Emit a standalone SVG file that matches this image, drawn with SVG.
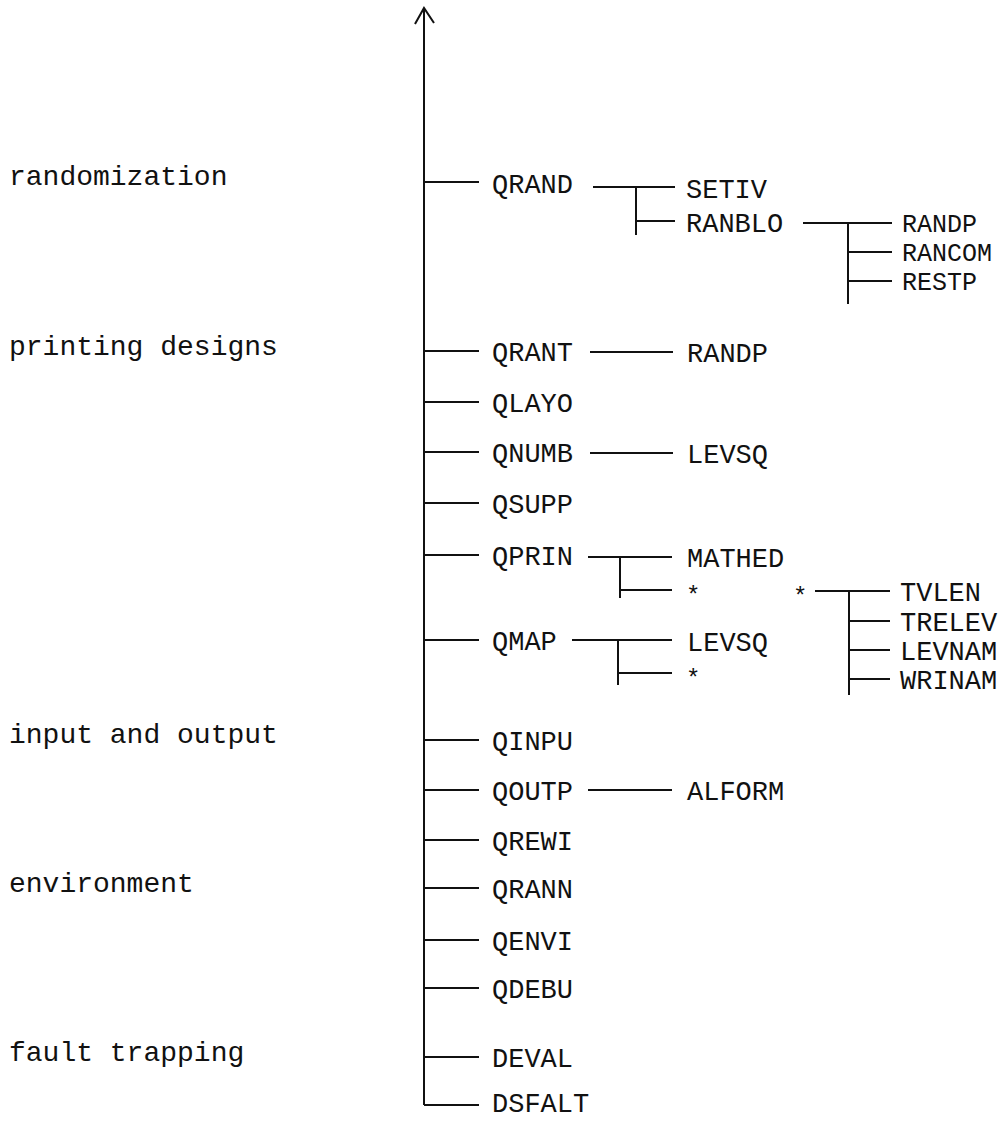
<svg xmlns="http://www.w3.org/2000/svg" width="1005" height="1121" viewBox="0 0 1005 1121">
<style>
  .t { font-family: "Liberation Mono", "DejaVu Sans Mono", monospace; font-size: 27px; fill: #111; }
  .u { font-family: "Liberation Mono", "DejaVu Sans Mono", monospace; font-size: 25px; fill: #111; }
  .l { font-family: "Liberation Mono", "DejaVu Sans Mono", monospace; font-size: 28px; fill: #111; }
  .s { font-family: "Liberation Mono", "DejaVu Sans Mono", monospace; font-size: 24px; fill: #111; }
  .c line, .c polyline { stroke: #111; stroke-width: 2; fill: none; stroke-linecap: butt; }
</style>
<rect width="1005" height="1121" fill="#fff"/>

<g id="categories">
  <text class="l" x="9" y="185">randomization</text>
  <text class="l" x="9" y="355">printing designs</text>
  <text class="l" x="9" y="743">input and output</text>
  <text class="l" x="9" y="892">environment</text>
  <text class="l" x="9" y="1061">fault trapping</text>
</g>

<g id="connectors" class="c">
  <line x1="424" y1="9" x2="424" y2="1105"/>
  <polyline points="415,24 424,8 434,23"/>
  <line x1="424" y1="182" x2="479" y2="182"/>
  <line x1="424" y1="351" x2="479" y2="351"/>
  <line x1="424" y1="402" x2="479" y2="402"/>
  <line x1="424" y1="452" x2="479" y2="452"/>
  <line x1="424" y1="503" x2="479" y2="503"/>
  <line x1="424" y1="555" x2="479" y2="555"/>
  <line x1="424" y1="640" x2="479" y2="640"/>
  <line x1="424" y1="740" x2="479" y2="740"/>
  <line x1="424" y1="790" x2="479" y2="790"/>
  <line x1="424" y1="840" x2="479" y2="840"/>
  <line x1="424" y1="888" x2="479" y2="888"/>
  <line x1="424" y1="940" x2="479" y2="940"/>
  <line x1="424" y1="988" x2="479" y2="988"/>
  <line x1="424" y1="1057" x2="479" y2="1057"/>
  <line x1="424" y1="1105" x2="479" y2="1105"/>
  <line x1="593" y1="187" x2="675" y2="187"/>
  <line x1="636" y1="187" x2="636" y2="235"/>
  <line x1="636" y1="221" x2="675" y2="221"/>
  <line x1="803" y1="223" x2="892" y2="223"/>
  <line x1="848" y1="223" x2="848" y2="304"/>
  <line x1="848" y1="252" x2="892" y2="252"/>
  <line x1="848" y1="281" x2="892" y2="281"/>
  <line x1="590" y1="352" x2="673" y2="352"/>
  <line x1="590" y1="453" x2="673" y2="453"/>
  <line x1="588" y1="557" x2="672" y2="557"/>
  <line x1="620" y1="557" x2="620" y2="598"/>
  <line x1="620" y1="590" x2="672" y2="590"/>
  <line x1="815" y1="591" x2="890" y2="591"/>
  <line x1="849" y1="591" x2="849" y2="695"/>
  <line x1="849" y1="621" x2="890" y2="621"/>
  <line x1="849" y1="650" x2="890" y2="650"/>
  <line x1="849" y1="679" x2="890" y2="679"/>
  <line x1="572" y1="640" x2="672" y2="640"/>
  <line x1="618" y1="640" x2="618" y2="685"/>
  <line x1="618" y1="673" x2="672" y2="673"/>
  <line x1="588" y1="790" x2="672" y2="790"/>
</g>

<g id="n-QRAND"><text class="t" x="492" y="193">QRAND</text></g>
<g id="n-SETIV"><text class="t" x="686" y="198">SETIV</text></g>
<g id="n-RANBLO"><text class="t" x="686" y="232">RANBLO</text></g>
<g id="n-RANDP1"><text class="u" x="902" y="232">RANDP</text></g>
<g id="n-RANCOM"><text class="u" x="902" y="261">RANCOM</text></g>
<g id="n-RESTP"><text class="u" x="902" y="290">RESTP</text></g>
<g id="n-QRANT"><text class="t" x="492" y="361">QRANT</text></g>
<g id="n-RANDP2"><text class="t" x="687" y="362">RANDP</text></g>
<g id="n-QLAYO"><text class="t" x="492" y="412">QLAYO</text></g>
<g id="n-QNUMB"><text class="t" x="492" y="462">QNUMB</text></g>
<g id="n-LEVSQ1"><text class="t" x="687" y="463">LEVSQ</text></g>
<g id="n-QSUPP"><text class="t" x="492" y="513">QSUPP</text></g>
<g id="n-QPRIN"><text class="t" x="492" y="565">QPRIN</text></g>
<g id="n-MATHED"><text class="t" x="687" y="567">MATHED</text></g>
<g id="n-star1"><text class="s" x="686" y="603">*</text></g>
<g id="n-star2"><text class="s" x="793" y="604">*</text></g>
<g id="n-TVLEN"><text class="t" x="900" y="601">TVLEN</text></g>
<g id="n-TRELEV"><text class="t" x="900" y="631">TRELEV</text></g>
<g id="n-LEVNAM"><text class="t" x="900" y="660">LEVNAM</text></g>
<g id="n-WRINAM"><text class="t" x="900" y="689">WRINAM</text></g>
<g id="n-QMAP"><text class="t" x="492" y="650">QMAP</text></g>
<g id="n-LEVSQ2"><text class="t" x="687" y="651">LEVSQ</text></g>
<g id="n-star3"><text class="s" x="686" y="686">*</text></g>
<g id="n-QINPU"><text class="t" x="492" y="750">QINPU</text></g>
<g id="n-QOUTP"><text class="t" x="492" y="800">QOUTP</text></g>
<g id="n-ALFORM"><text class="t" x="687" y="800">ALFORM</text></g>
<g id="n-QREWI"><text class="t" x="492" y="850">QREWI</text></g>
<g id="n-QRANN"><text class="t" x="492" y="898">QRANN</text></g>
<g id="n-QENVI"><text class="t" x="492" y="950">QENVI</text></g>
<g id="n-QDEBU"><text class="t" x="492" y="998">QDEBU</text></g>
<g id="n-DEVAL"><text class="t" x="492" y="1067">DEVAL</text></g>
<g id="n-DSFALT"><text class="t" x="492" y="1112">DSFALT</text></g>
</svg>
